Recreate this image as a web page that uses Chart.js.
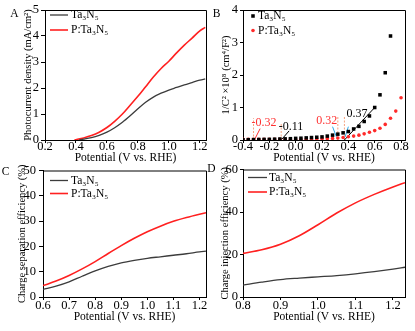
<!DOCTYPE html>
<html>
<head>
<meta charset="utf-8">
<script src="https://cdn.jsdelivr.net/npm/chart.js@4.4.1/dist/chart.umd.min.js"></script>
<style>
  html, body { margin: 0; padding: 0; background: #fff; }
  #wrap { position: relative; width: 415px; height: 331px; overflow: hidden; background: #fff; }
  canvas { position: absolute; }
</style>
</head>
<body>
<div id="wrap">
  <canvas id="chartA" width="210" height="166" style="left:0px;top:0px"></canvas>
  <canvas id="chartB" width="210" height="166" style="left:205px;top:0px"></canvas>
  <canvas id="chartC" width="210" height="171" style="left:0px;top:160px"></canvas>
  <canvas id="chartD" width="210" height="171" style="left:205px;top:160px"></canvas>
</div>
<script>
const SERIF = '"Liberation Serif", "Times New Roman", serif';
const BLACK = '#3c3c3c';
const RED = '#ff2020';

const seriesNames = ['Ta₃N₅', 'P:Ta₃N₅'];
const xTitle = 'Potential (V vs. RHE)';

// A - photocurrent density
const potA_Ta = [0.42, 0.45, 0.5, 0.55, 0.6, 0.65, 0.7, 0.75, 0.8, 0.85, 0.9, 0.95, 1.0, 1.05, 1.1, 1.15, 1.2, 1.235];
const jA_Ta = [0, 0.03, 0.09, 0.18, 0.3, 0.47, 0.68, 0.93, 1.2, 1.45, 1.65, 1.8, 1.92, 2.02, 2.12, 2.21, 2.3, 2.35];
const potA_P = [0.39, 0.45, 0.5, 0.55, 0.6, 0.65, 0.7, 0.75, 0.8, 0.85, 0.9, 0.95, 1.0, 1.05, 1.1, 1.15, 1.2, 1.235];
const jA_P = [0, 0.08, 0.17, 0.3, 0.48, 0.72, 1.0, 1.34, 1.68, 2.05, 2.42, 2.75, 3.03, 3.35, 3.65, 3.92, 4.2, 4.33];
const ticksAx = [0.2, 0.4, 0.6, 0.8, 1.0, 1.2];
const ticksAy = [0, 1, 2, 3, 4, 5];

// B - Mott-Schottky
const potB_Ta = [-0.40, -0.36, -0.32, -0.28, -0.24, -0.20, -0.16, -0.12, -0.08, -0.04, 0.00, 0.04, 0.08, 0.12, 0.16, 0.20, 0.24, 0.28, 0.32, 0.36, 0.40, 0.44, 0.48, 0.52, 0.56, 0.60, 0.64, 0.68, 0.72];
const msB_Ta = [0.01, 0.01, 0.012, 0.015, 0.018, 0.02, 0.025, 0.03, 0.035, 0.04, 0.05, 0.055, 0.065, 0.075, 0.085, 0.095, 0.12, 0.15, 0.18, 0.22, 0.26, 0.34, 0.42, 0.57, 0.74, 1.0, 1.39, 2.07, 3.2];
const potB_P = [-0.40, -0.36, -0.32, -0.28, -0.24, -0.20, -0.16, -0.12, -0.08, -0.04, 0.00, 0.04, 0.08, 0.12, 0.16, 0.20, 0.24, 0.28, 0.32, 0.36, 0.40, 0.44, 0.48, 0.52, 0.56, 0.60, 0.64, 0.68, 0.72, 0.76, 0.80];
const msB_P = [0.02, 0.02, 0.02, 0.02, 0.02, 0.02, 0.02, 0.02, 0.02, 0.02, 0.025, 0.025, 0.03, 0.03, 0.035, 0.04, 0.045, 0.05, 0.06, 0.075, 0.10, 0.12, 0.15, 0.19, 0.24, 0.29, 0.36, 0.48, 0.67, 0.89, 1.30];
const ticksBx = [-0.4, -0.2, 0.0, 0.2, 0.4, 0.6, 0.8];
const ticksBy = [0, 1, 2, 3, 4];
// flat band marks: potential, height of the guide line
const flatBandB = [-0.32, -0.11, 0.32, 0.37];
const flatBandTopB = [0.67, 0.51, 0.72, 0.72];
// leader / tangent lines [x1, y1, x2, y2]
const leaderRedB = [-0.31, 0.03, -0.27, 0.35];
const leaderBlackB = [-0.106, 0.02, -0.05, 0.28];
const leaderBlue1B = [0.28, 0.41, 0.31, 0.09];
const leaderBlue2B = [0.40, 0.41, 0.375, 0.09];
const tangentB = [0.37, 0, 0.60, 1.0];

// C - charge separation efficiency
const potC = [0.6, 0.65, 0.7, 0.75, 0.8, 0.85, 0.9, 0.95, 1.0, 1.05, 1.1, 1.15, 1.2, 1.225];
const sepC_Ta = [3.0, 4.3, 6.0, 8.2, 10.3, 12.1, 13.5, 14.5, 15.3, 15.9, 16.5, 17.1, 17.8, 18.1];
const sepC_P = [4.5, 6.3, 8.5, 11.1, 14.0, 17.2, 20.3, 23.2, 25.8, 28.0, 29.9, 31.4, 32.7, 33.3];
const ticksCx = [0.6, 0.7, 0.8, 0.9, 1.0, 1.1, 1.2];
const ticksCy = [0, 10, 20, 30, 40, 50];

// D - charge injection efficiency
const potD = [0.8, 0.85, 0.9, 0.95, 1.0, 1.05, 1.1, 1.15, 1.2, 1.232];
const injD_Ta = [5.6, 7.0, 8.2, 8.9, 9.5, 10.1, 10.9, 11.9, 13.1, 14.0];
const injD_P = [20.5, 22.2, 24.8, 28.8, 34.0, 39.5, 44.3, 48.3, 51.8, 53.8];
const ticksDx = [0.8, 0.9, 1.0, 1.1, 1.2];
const ticksDy = [0, 20, 40, 60];

function xyPoints(xs, ys) {
  return xs.map((x, i) => ({ x: x, y: ys[i] }));
}

function segment(s) {
  return [{ x: s[0], y: s[1] }, { x: s[2], y: s[3] }];
}

function curve(label, color, xs, ys, width) {
  return {
    label: label, data: xyPoints(xs, ys), borderColor: color, borderWidth: width,
    pointRadius: 0, fill: false, cubicInterpolationMode: 'monotone'
  };
}

function guide(data, color, dash) {
  return {
    data: data, borderColor: color, borderWidth: 1, borderDash: dash || [],
    pointRadius: 0, fill: false, tension: 0
  };
}

function makeAxis(c) {
  const horiz = c.horiz;
  return {
    type: 'linear',
    position: horiz ? 'bottom' : 'left',
    min: c.min, max: c.max,
    border: { display: true, color: '#000', width: 1 },
    grid: { display: true, drawOnChartArea: false, drawTicks: true, tickLength: c.tl, tickColor: '#000', tickWidth: 1 },
    ticks: {
      color: '#000', font: { family: SERIF, size: 12.5 }, padding: c.pad,
      autoSkip: false, maxRotation: 0, minRotation: 0, includeBounds: false,
      callback: v => c.dec ? Number(v).toFixed(c.dec) : String(v)
    },
    title: {
      display: true, text: c.title, color: '#000',
      font: { family: SERIF, size: horiz ? 11.5 : 10.5 },
      padding: horiz ? { top: 0, bottom: c.tp } : { top: c.tp, bottom: 0 }
    },
    afterBuildTicks: s => { s.ticks = c.ticks.map(v => ({ value: v })); },
    afterFit: s => { if (horiz) s.height = c.size; else s.width = c.size; }
  };
}

// frame, panel letter, inner legend and text notes
const panelPlugin = {
  id: 'panel',
  afterDraw(chart, args, o) {
    const ctx = chart.ctx, a = chart.chartArea;
    ctx.save();
    ctx.strokeStyle = '#000';
    ctx.lineWidth = 1;
    ctx.beginPath();
    ctx.moveTo(a.left + 0.5, a.top + 0.5);
    ctx.lineTo(a.right + 0.5, a.top + 0.5);
    ctx.lineTo(a.right + 0.5, a.bottom + 0.5);
    ctx.stroke();

    ctx.fillStyle = '#000';
    ctx.font = '11.5px ' + SERIF;
    ctx.textBaseline = 'middle';
    ctx.textAlign = 'center';
    ctx.fillText(o.letter, o.lx, o.ly);

    (o.notes || []).forEach(n => {
      ctx.fillStyle = n.color;
      ctx.font = '12px ' + SERIF;
      ctx.fillText(n.text, chart.scales.x.getPixelForValue(n.x), chart.scales.y.getPixelForValue(n.y));
    });

    const L = o.legend;
    ctx.textAlign = 'left';
    ctx.font = '11.5px ' + SERIF;
    let row = 0;
    chart.data.datasets.forEach(ds => {
      if (!ds.label) return;
      const x = a.left + L.dx, y = a.top + L.dy + row * L.gap;
      if (ds.showLine === false) {
        ctx.fillStyle = ds.pointBackgroundColor;
        const r = ds.pointRadius;
        ctx.beginPath();
        if (ds.pointStyle === 'rect') {
          const h = r * Math.SQRT1_2;
          ctx.rect(x - h, y - h, 2 * h, 2 * h);
        } else {
          ctx.arc(x, y, r, 0, Math.PI * 2);
        }
        ctx.fill();
      } else {
        ctx.strokeStyle = ds.borderColor;
        ctx.lineWidth = ds.borderWidth;
        ctx.beginPath();
        ctx.moveTo(x, y);
        ctx.lineTo(x + L.len, y);
        ctx.stroke();
      }
      ctx.fillStyle = '#000';
      ctx.fillText(ds.label, x + L.tx, y);
      row++;
    });
    ctx.restore();
  }
};

function makeChart(id, datasets, xAx, yAx, pad, panel) {
  return new Chart(document.getElementById(id), {
    type: 'line',
    data: { datasets: datasets },
    options: {
      responsive: false,
      animation: false,
      devicePixelRatio: 1,
      layout: { padding: pad, autoPadding: false },
      scales: { x: makeAxis(xAx), y: makeAxis(yAx) },
      plugins: { legend: { display: false }, tooltip: { enabled: false }, panel: panel }
    },
    plugins: [panelPlugin]
  });
}

// A
makeChart('chartA',
  [curve(seriesNames[0], BLACK, potA_Ta, jA_Ta, 1.3), curve(seriesNames[1], RED, potA_P, jA_P, 1.6)],
  { horiz: true, min: 0.2, max: 1.24, ticks: ticksAx, dec: 1, tl: 3, pad: -3.5, title: xTitle, tp: 1, size: 26 },
  { horiz: false, min: 0, max: 5, ticks: ticksAy, dec: 0, tl: 4, pad: 2, title: 'Photocurrent density (mA/cm²)', tp: 21.5, size: 45 },
  { top: 10, right: 4, left: 0, bottom: 0 },
  { letter: 'A', lx: 14.5, ly: 13.5, legend: { dx: 5, dy: 5, gap: 15, len: 18, tx: 21 } }
);

// B
const guideColor = '#f6a27e';
const flatGuides = flatBandB.map((v, i) => guide([{ x: v, y: 0 }, { x: v, y: flatBandTopB[i] }], guideColor, [2, 1.5]));
makeChart('chartB',
  [
    { label: seriesNames[0], data: xyPoints(potB_Ta, msB_Ta), showLine: false, pointStyle: 'rect', pointRadius: 2.5,
      pointBackgroundColor: '#000', pointBorderWidth: 0, borderColor: '#000' },
    { label: seriesNames[1], data: xyPoints(potB_P, msB_P), showLine: false, pointStyle: 'circle', pointRadius: 1.8,
      pointBackgroundColor: '#ff2a2a', pointBorderWidth: 0, borderColor: '#ff2a2a' },
    guide(segment(tangentB), '#000'),
    guide(segment(leaderRedB), '#ff3030'),
    guide(segment(leaderBlackB), '#000'),
    guide(segment(leaderBlue1B), '#2aa8e8'),
    guide(segment(leaderBlue2B), '#2aa8e8')
  ].concat(flatGuides),
  { horiz: true, min: -0.4, max: 0.83, ticks: ticksBx, dec: 1, tl: 3, pad: -3.5, title: xTitle, tp: 1, size: 26 },
  { horiz: false, min: 0, max: 4, ticks: ticksBy, dec: 0, tl: 3, pad: 2, title: '1/C² ×10⁸ (cm⁴/F²)', tp: 14.5, size: 38 },
  { top: 10, right: 10, left: 0, bottom: 0 },
  {
    letter: 'B', lx: 11.5, ly: 13.5, legend: { dx: 10, dy: 6, gap: 14.5, len: 0, tx: 5 },
    notes: [
      { text: '-0.32', x: -0.24, y: 0.53, color: '#ff3030' },
      { text: '-0.11', x: -0.035, y: 0.41, color: '#000' },
      { text: '0.32', x: 0.235, y: 0.58, color: '#ff3030' },
      { text: '0.37', x: 0.465, y: 0.82, color: '#000' }
    ]
  }
);

// C
makeChart('chartC',
  [curve(seriesNames[0], BLACK, potC, sepC_Ta, 1.3), curve(seriesNames[1], RED, potC, sepC_P, 1.6)],
  { horiz: true, min: 0.6, max: 1.225, ticks: ticksCx, dec: 1, tl: 3, pad: -1.5, title: xTitle, tp: 7, size: 34 },
  { horiz: false, min: 0, max: 50, ticks: ticksCy, dec: 0, tl: 4, pad: 3, title: 'Charge separation efficiency (%)', tp: 15.5, size: 43 },
  { top: 6, right: 4, left: 0, bottom: 0 },
  { letter: 'C', lx: 5.5, ly: 11.5, legend: { dx: 7, dy: 10, gap: 13, len: 18, tx: 21 } }
);

// D
makeChart('chartD',
  [curve(seriesNames[0], BLACK, potD, injD_Ta, 1.3), curve(seriesNames[1], RED, potD, injD_P, 1.6)],
  { horiz: true, min: 0.8, max: 1.232, ticks: ticksDx, dec: 1, tl: 3, pad: -1.5, title: xTitle, tp: 7, size: 34 },
  { horiz: false, min: 0, max: 60, ticks: ticksDy, dec: 0, tl: 3, pad: 2, title: 'Charge injection efficiency (%)', tp: 13.5, size: 38 },
  { top: 7, right: 10, left: 0, bottom: 0 },
  { letter: 'D', lx: 6.5, ly: 8.5, legend: { dx: 5, dy: 8, gap: 14.5, len: 19, tx: 21 } }
);
</script>
</body>
</html>
